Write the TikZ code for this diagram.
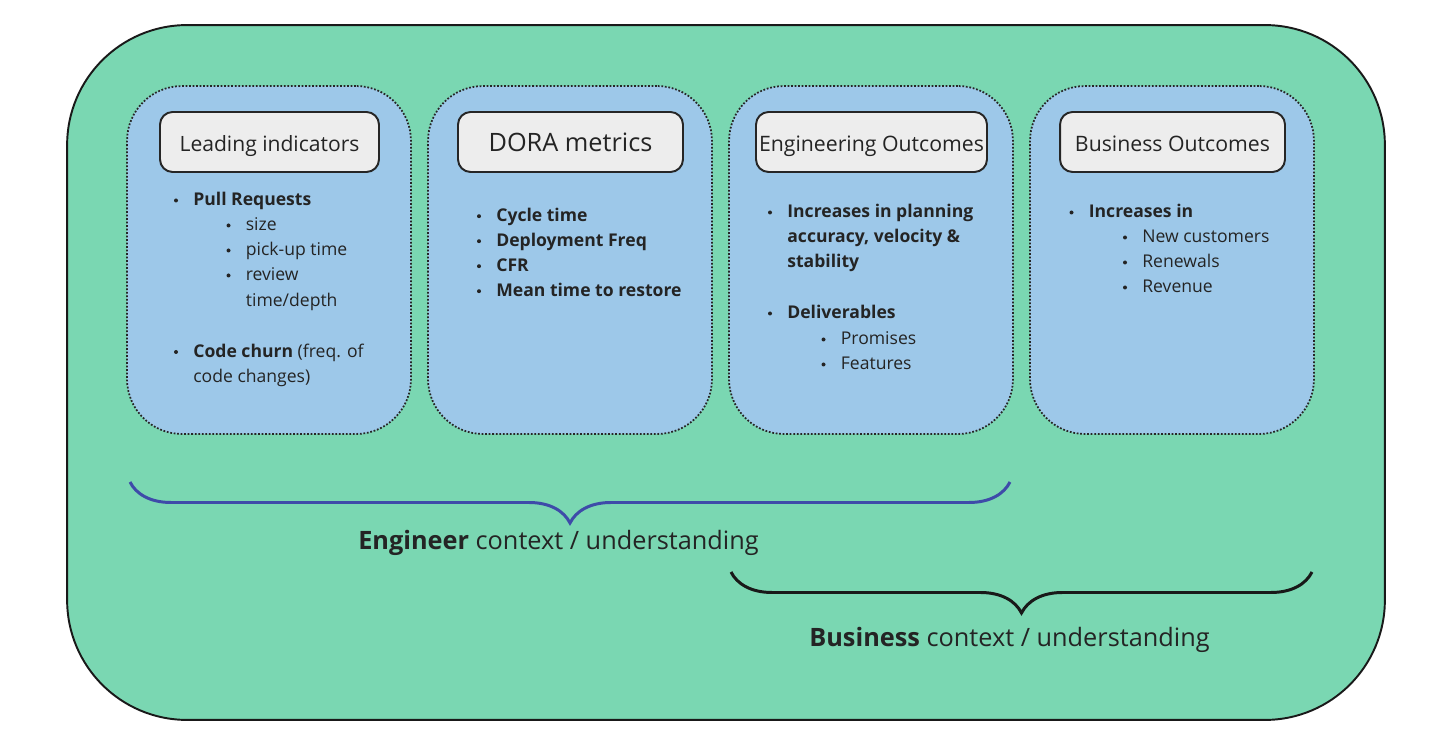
\documentclass[tikz,border=0pt]{standalone}
\usepackage{fontspec}
\setmainfont{Open Sans}
\usetikzlibrary{decorations.pathreplacing}
\definecolor{mint}{HTML}{7AD7B2}
\definecolor{panelblue}{HTML}{9DC8E9}
\definecolor{headgray}{HTML}{EDEDED}
\definecolor{inkgray}{HTML}{242424}
\definecolor{braceblue}{HTML}{3E4BA9}
\begin{document}
\begin{tikzpicture}[x=0.02cm,y=-0.02cm,
  frame/.style={draw=black!90,line width=1.1pt,fill=mint,rounded corners=2.4cm,minimum width=26.36cm,minimum height=13.9cm},
  panel/.style={draw=black!85,line width=1pt,dash pattern=on 1pt off 1pt,fill=panelblue,rounded corners=1.1cm,minimum width=5.68cm,minimum height=6.96cm},
  head/.style={draw=black!85,line width=1.1pt,fill=headgray,rounded corners=0.25cm,minimum height=1.2cm,inner sep=0pt,text height=0.4cm,text depth=0cm,text=inkgray},
  item/.style={anchor=base west,inner sep=0pt,font=\fontsize{10}{12}\selectfont,text=inkgray},
  dot/.style={circle,fill=inkgray,inner sep=0pt,minimum size=0.8mm},
  ctxbrace/.style={decorate,decoration={brace,mirror,amplitude=0.82cm},line width=1.7pt},
  ctx/.style={anchor=base,inner sep=0pt,font=\fontsize{14.4}{17}\selectfont,text=inkgray}]
\useasboundingbox (0,0) rectangle (1430,746);
\node[frame] (frame) at (726,372.5) {};
\foreach \n/\w/\f/\t [count=\i from 0] in {lead/4.38cm/12/Leading indicators,dora/4.5cm/14.4/DORA metrics,engout/4.62cm/12.1/Engineering Outcomes,busout/4.5cm/12.1/Business Outcomes}
{\node[panel] (\n) at (269+301*\i,260) {};
\node[head,minimum width=\w,font=\fontsize{\f}{\f}\selectfont] (\n-head) at (269.5+301*\i,142) {\t};
}
\foreach \x/\y/\bul/\txt [count=\i] in {
 193/206/1/\textbf{Pull Requests},245.5/231/1/size,245.5/256/1/pick-up time,245.5/281/1/review,
 245.5/306.5/0/{time/depth},193/357.5/1/\textbf{Code churn} (freq. of,193/382.5/0/code changes),
 496/221.7/1/\textbf{Cycle time},496/246.7/1/\textbf{Deployment Freq},496/271.7/1/\textbf{CFR},496/296.7/1/\textbf{Mean time to restore},
 787/218/1/\textbf{Increases in planning},787/243/0/\textbf{accuracy, velocity \&},787/268/0/\textbf{stability},
 787/319/1/\textbf{Deliverables},840.5/345/1/Promises,840.5/370/1/Features,
 1088.5/218/1/\textbf{Increases in},1142/243/1/New customers,1142/268/1/Renewals,1142/293/1/Revenue}
{\ifnum\bul=1 \node[dot] (dot\i) at (\x-17,\y-5.5) {}; \fi
\node[item] (item\i) at (\x,\y) {\txt};
}
\coordinate (engL) at (130,482);
\coordinate (engR) at (1010,482);
\draw[ctxbrace,draw=braceblue] (engL) -- (engR);
\node[ctx] (englabel) at (558.5,549) {\textbf{Engineer} context / understanding};
\coordinate (busL) at (731,572);
\coordinate (busR) at (1312,572);
\draw[ctxbrace,draw=black!90] (busL) -- (busR);
\node[ctx] (buslabel) at (1009.5,646) {\textbf{Business} context / understanding};
\end{tikzpicture}
\end{document}
